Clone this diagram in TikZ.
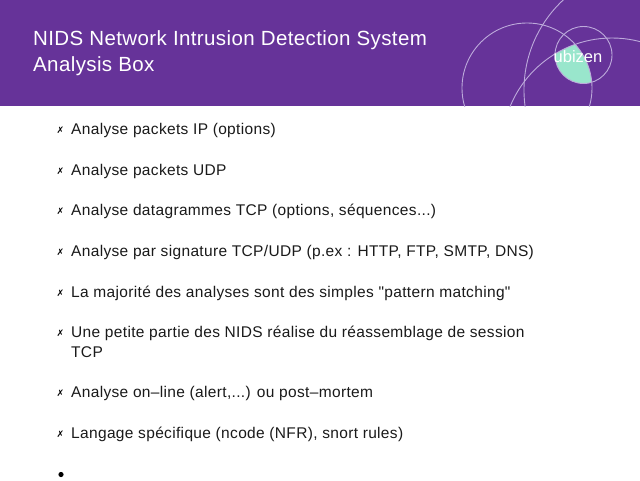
\documentclass[tikz,border=0pt]{standalone}
\usepackage{fontspec}
\setmainfont{Liberation Sans}
\newfontfamily\sym{DejaVu Sans}
\newfontfamily\bodyf[LetterSpace=2.2]{Liberation Sans}
\newfontfamily\titlef[LetterSpace=1.9]{Liberation Sans}
\definecolor{hdr}{HTML}{663399}
\definecolor{teal}{HTML}{99E6CC}
\definecolor{arcc}{HTML}{BDAADB}
\definecolor{ink}{HTML}{1A1A1A}
\tikzset{
 txt/.style={anchor=base west,inner sep=0pt,font=\bodyf\fontsize{15.5}{15.5}\selectfont,text=ink},
 ttl/.style={anchor=base west,inner sep=0pt,font=\titlef\fontsize{20.5}{20.5}\selectfont,text=white},
 mk/.style={anchor=base,inner sep=0pt,font=\fontsize{9}{9}\sym\selectfont,text=black},
 arcl/.style={draw=arcc,line width=0.9pt}
}
\begin{document}
\begin{tikzpicture}[x=1pt,y=-1pt]
\useasboundingbox (0,0) rectangle (640,480);
\fill[white] (0,0) rectangle (640,480);
\fill[hdr] (0,0) rectangle (640,106);
\begin{scope}
 \clip (527,88) circle[radius=65];
 \clip (583.5,55) circle[radius=28.5];
 \fill[teal] (612,148) circle[radius=110];
\end{scope}
\begin{scope}
 \clip (0,0) rectangle (640,106);
 \draw[arcl] (527,88) circle[radius=65];
 \draw[arcl] (583.5,55) circle[radius=28.5];
 \draw[arcl] (612,148) circle[radius=110];
 \draw[arcl] (647,90) circle[radius=123];
\end{scope}
\node[anchor=base west,inner sep=0pt,font=\fontsize{16.5}{16.5}\selectfont,text=white] (logo) at (553.5,62) {ubizen};
\node[ttl] (t1) at (33,45) {NIDS Network Intrusion Detection System};
\node[ttl] (t2) at (33,71) {Analysis Box};
\foreach \n/\y/\s in {a/134/{Analyse packets IP (options)},
 b/175/{Analyse packets UDP},
 c/215/{Analyse datagrammes TCP (options, séquences...)},
 d/256/{Analyse par signature TCP/UDP (p.ex : HTTP, FTP, SMTP, DNS)},
 e/297/{La majorité des analyses sont des simples \char34 pattern matching\char34},
 f/337/{Une petite partie des NIDS réalise du réassemblage de session},
 h/397/{Analyse on–line (alert,...) ou post–mortem},
 i/438/{Langage spécifique (ncode (NFR), snort rules)}}{
 \node[txt] (\n) at (71,\y) {\s};
}
\node[txt] (g) at (71,357) {TCP};
\foreach \y in {133,174,214,255,296,336,396,437}{
 \node[mk] at (60.5,\y) {✗};
}
\fill[black] (61,474.5) circle[radius=2.6];
\end{tikzpicture}
\end{document}
